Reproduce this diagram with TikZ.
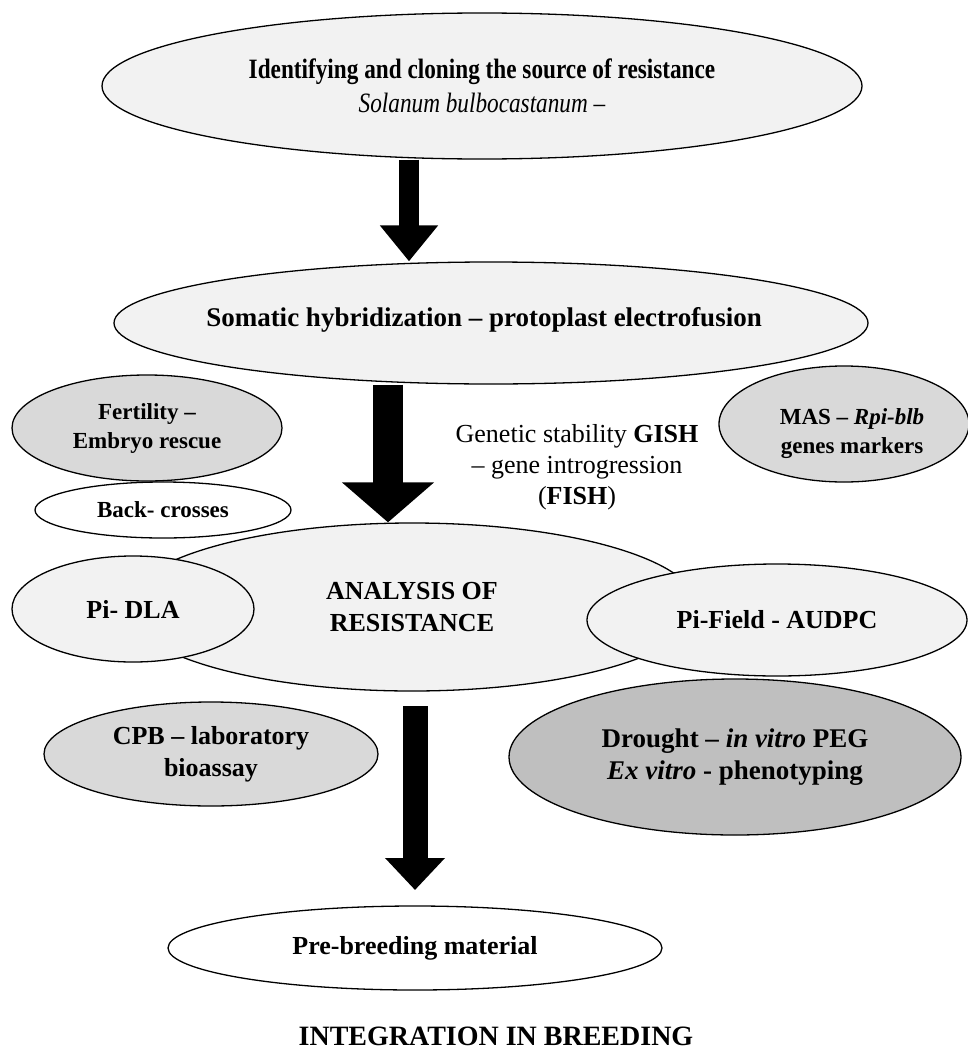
\documentclass[tikz,border=0pt]{standalone}
\usepackage{fontspec}
\setmainfont{Liberation Serif}
\newfontfamily\narrowserif[FakeStretch=0.83]{Liberation Serif}
\usetikzlibrary{shapes.geometric,arrows.meta}
\definecolor{lightg}{HTML}{F2F2F2}
\definecolor{midg}{HTML}{D9D9D9}
\definecolor{darkg}{HTML}{BFBFBF}
\begin{document}
\begin{tikzpicture}[x=1pt,y=-1pt,
  oval/.style={ellipse, draw=black, line width=1.3pt, inner sep=0pt, align=center,
    font=\fontsize{26}{32}\selectfont\bfseries},
  smalltext/.style={font=\fontsize{23}{29}\selectfont\bfseries},
  plain/.style={align=center, inner sep=0pt, font=\fontsize{26}{31}\selectfont},
  arrowone/.style={draw=black, line width=20pt, -{Triangle[length=36pt,width=56pt]}},
  arrowtwo/.style={draw=black, line width=30pt, -{Triangle[length=40pt,width=90pt]}},
  arrowthree/.style={draw=black, line width=25pt, -{Triangle[length=32pt,width=58pt]}}]
\useasboundingbox (0,0) rectangle (968,1052);

\node[oval, fill=lightg, minimum width=760pt, minimum height=146pt,
  font=\narrowserif\fontsize{28}{34}\selectfont\bfseries] (e1) at (482,86)
  {Identifying and cloning the source of resistance\\\mdseries\itshape Solanum bulbocastanum –};
\node[oval, fill=lightg, minimum width=754pt, minimum height=122pt] (e2) at (491,323) {};
\node[plain, font=\fontsize{27}{32}\selectfont\bfseries] (e2t) at (484,320)
  {Somatic hybridization – protoplast electrofusion};

\node[oval, smalltext, fill=midg, minimum width=270pt, minimum height=106pt] (fert) at (147,428)
  {Fertility –\\Embryo rescue};
\node[oval, fill=midg, minimum width=250pt, minimum height=116pt] (mas) at (844,424) {};
\node[plain, smalltext] (mast) at (852,434)
  {MAS – \textit{Rpi-blb}\\genes markers};
\node[plain] (gish) at (577,467)
  {Genetic stability \textbf{GISH}\\– gene introgression\\(\textbf{FISH})};

\node[oval, fill=lightg, minimum width=572pt, minimum height=168pt] (an) at (412,607)
  {ANALYSIS OF\\RESISTANCE};
\node[oval, smalltext, fill=white, minimum width=256pt, minimum height=56pt] (back) at (163,510)
  {Back- crosses};
\node[oval, fill=lightg, minimum width=242pt, minimum height=106pt] (dla) at (133,609)
  {Pi- DLA};
\node[oval, fill=lightg, minimum width=380pt, minimum height=112pt] (field) at (777,620)
  {Pi-Field - AUDPC};

\node[oval, fill=midg, minimum width=334pt, minimum height=104pt] (cpb) at (211,754)
  {CPB – laboratory\\bioassay};
\node[oval, fill=darkg, minimum width=452pt, minimum height=156pt,
  font=\fontsize{27}{32}\selectfont\bfseries] (dr) at (735,757)
  {Drought – \textit{in vitro} PEG\\\textit{Ex vitro} - phenotyping};

\node[oval, fill=white, minimum width=494pt, minimum height=84pt] (pre) at (415,948)
  {Pre-breeding material};
\node[plain, font=\fontsize{28}{32}\selectfont\bfseries] (integ) at (496,1036)
  {INTEGRATION IN BREEDING};

\coordinate (a1) at (409,0);
\coordinate (a2) at (388,0);
\coordinate (a3s) at (415,706);
\coordinate (a3e) at (415,890);
\draw[arrowone] (e1.south -| a1) -- (e2.north -| a1);
\draw[arrowtwo] (e2.south -| a2) -- (an.north -| a2);
\draw[arrowthree] (a3s) -- (a3e);
\end{tikzpicture}
\end{document}
